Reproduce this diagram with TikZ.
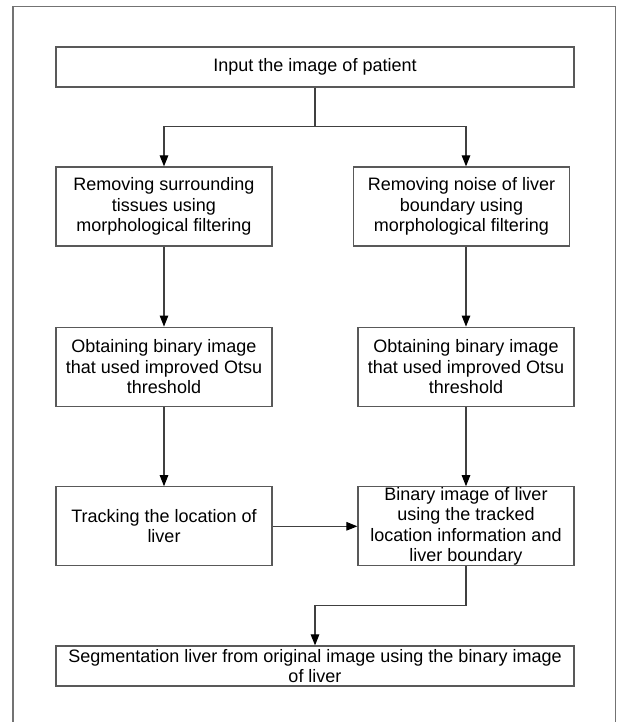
\documentclass[tikz,border=0pt]{standalone}
\usepackage{fontspec}
\setmainfont{Liberation Sans}
\usepackage{tikz}
\usetikzlibrary{shapes,arrows,arrows.meta}

\tikzset{
	stepbox/.style={draw=black!65, line width=1.2pt, align=center, inner sep=0pt,
		font=\fontsize{18}{20.5}\selectfont},
	wide/.style={stepbox, minimum width=518pt, minimum height=40pt},
	half/.style={stepbox, minimum width=216pt, minimum height=79pt},
	conn/.style={draw=black!75, line width=1.1pt,
		-{Triangle[length=11pt,width=8.5pt,color=black]}}
}

\begin{document}
\begin{tikzpicture}[x=1pt, y=-1pt]
		\useasboundingbox (0,0) rectangle (622,722);
		\draw[black!55, line width=1.3pt] (13,722) -- (13,6.3) -- (615.5,6.3) -- (615.5,722);
		\node[wide] (input) at (315,67) {Input the image of patient};
		\node[half] (lrem) at (164,206.5) {Removing surrounding\\tissues using\\morphological filtering};
		\node[half] (rrem) at (461.5,206.5) {Removing noise of liver\\boundary using\\morphological filtering};
		\node[half] (lbin) at (164,366.7) {Obtaining binary image\\that used improved Otsu\\threshold};
		\node[half] (rbin) at (466,366.7) {Obtaining binary image\\that used improved Otsu\\threshold};
		\node[half] (track) at (164,526.3) {Tracking the location of\\liver};
		\node[half] (liver) at (466,526.3) {Binary image of liver\\using the tracked\\location information and\\liver boundary};
		\node[wide] (seg) at (315,666) {Segmentation liver from original image using the binary image\\of liver};
		\coordinate (fork) at (315,126.7);
		\coordinate (join) at (466,605.7);
		\draw[conn] (input.south) -- (fork) -| (lrem.north);
		\draw[conn] (fork) -| (rbin.north |- rrem.north);
		\draw[conn] (lrem.south) -- (lbin.north);
		\draw[conn] (rbin.north |- rrem.south) -- (rbin.north);
		\draw[conn] (lbin.south) -- (track.north);
		\draw[conn] (rbin.south) -- (liver.north);
		\draw[conn] (track.east) -- (liver.west);
		\draw[conn] (liver.south) -- (join) -| (seg.north);
\end{tikzpicture}
\end{document}
